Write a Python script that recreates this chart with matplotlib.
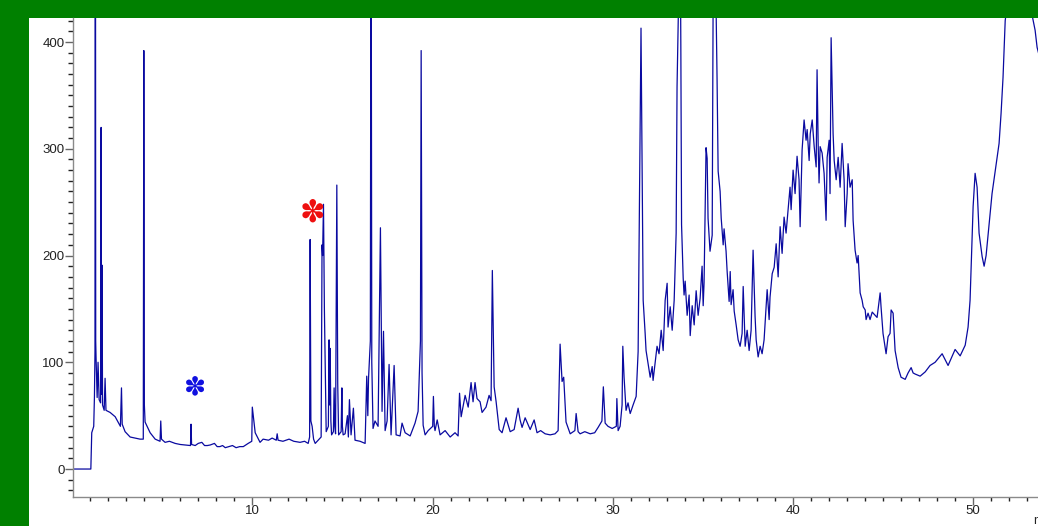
import matplotlib.pyplot as plt
from matplotlib.patches import Rectangle
from matplotlib.ticker import MultipleLocator
import numpy as np

# chromatogram trace, (time in min, signal)
early = [(0, 0), (1.04, 0), (1.09, 34), (1.2, 40), (1.24, 68), (1.27, 110), (1.29, 800),
         (1.31, 120), (1.33, 104), (1.39, 67), (1.44, 100), (1.5, 65), (1.58, 62),
         (1.61, 320), (1.63, 70), (1.66, 191), (1.69, 60), (1.78, 55), (1.83, 85),
         (1.88, 55), (2.11, 53), (2.39, 49), (2.68, 40), (2.74, 76), (2.78, 42),
         (2.94, 35), (3.22, 30), (3.5, 29), (3.77, 28), (3.95, 28), (3.98, 392), (4.01, 60),
         (4.05, 44), (4.33, 34), (4.61, 28), (4.88, 26), (4.92, 45), (4.96, 28),
         (5.16, 25), (5.4, 26), (5.72, 24), (6.0, 23), (6.27, 22.5), (6.57, 22), (6.6, 42),
         (6.63, 23), (6.83, 22), (7.0, 24), (7.2, 25), (7.35, 22), (7.5, 22), (7.66, 22.5),
         (7.9, 24), (8.05, 21), (8.2, 21), (8.35, 22), (8.5, 20), (8.7, 21), (8.9, 22),
         (9.1, 20), (9.3, 21), (9.5, 21), (9.77, 24), (9.97, 26), (10.0, 58),
         (10.16, 34), (10.43, 25)]

middle = [(10.6, 28), (10.9, 27), (11.1, 29), (11.33, 27), (11.38, 33), (11.43, 27),
          (11.7, 26), (12.04, 28), (12.3, 26), (12.65, 25), (12.9, 26),
          (13.1, 24), (13.18, 30), (13.21, 215), (13.25, 45), (13.32, 40), (13.4, 28),
          (13.49, 24), (13.82, 30), (13.87, 210), (13.9, 200), (13.95, 248), (14.0, 150),
          (14.1, 35), (14.22, 40), (14.26, 121), (14.29, 60), (14.32, 113), (14.36, 45),
          (14.4, 32), (14.5, 35), (14.54, 76), (14.58, 40), (14.62, 33), (14.69, 266),
          (14.74, 80), (14.79, 32), (14.93, 35), (14.97, 76), (15.0, 40), (15.04, 32),
          (15.15, 33), (15.28, 50), (15.33, 30), (15.39, 65), (15.48, 32), (15.61, 57),
          (15.7, 27), (15.98, 26), (16.26, 24), (16.35, 87), (16.41, 50), (16.45, 85),
          (16.55, 120), (16.59, 600), (16.63, 100), (16.7, 38), (16.81, 45), (16.98, 40),
          (17.11, 226), (17.2, 54), (17.28, 129), (17.37, 36), (17.48, 45), (17.59, 98),
          (17.7, 32), (17.87, 97), (17.98, 32), (18.2, 31), (18.31, 43), (18.48, 34),
          (18.76, 31), (19.03, 43), (19.2, 54), (19.33, 120), (19.37, 392), (19.42, 90),
          (19.48, 41), (19.59, 32), (19.76, 36), (20.01, 40), (20.05, 68), (20.1, 40),
          (20.14, 36), (20.26, 46), (20.42, 32)]

hump = [(20.7, 36), (20.98, 30), (21.25, 34), (21.42, 31), (21.5, 71), (21.59, 49),
        (21.81, 69), (21.98, 58), (22.14, 81), (22.25, 63), (22.36, 81), (22.47, 66),
        (22.64, 63), (22.75, 53), (22.97, 58), (23.14, 69), (23.25, 64), (23.32, 186),
        (23.42, 77), (23.53, 63), (23.7, 37), (23.86, 34), (24.08, 48), (24.31, 35),
        (24.53, 37), (24.75, 57), (24.86, 46), (24.97, 39), (25.14, 48), (25.42, 37),
        (25.64, 46), (25.8, 34), (26.0, 36), (26.25, 33), (26.53, 32), (26.8, 33), (26.97, 36),
        (27.08, 117), (27.19, 82), (27.28, 86), (27.41, 44), (27.64, 33), (27.9, 36),
        (27.97, 52), (28.08, 35), (28.19, 33), (28.45, 35), (28.75, 33), (29.0, 34),
        (29.19, 39), (29.4, 45), (29.48, 77), (29.58, 43), (29.74, 40), (29.97, 38),
        (30.2, 40), (30.23, 66), (30.3, 36), (30.41, 40), (30.52, 60), (30.56, 115),
        (30.63, 86), (30.74, 55), (30.85, 62), (30.97, 52), (31.13, 60), (31.3, 68),
        (31.41, 110), (31.57, 413)]

late = [(31.69, 158), (31.8, 127), (31.85, 111), (31.96, 99), (32.08, 86), (32.19, 96),
        (32.24, 83), (32.35, 99), (32.46, 115), (32.57, 108), (32.69, 130), (32.8, 111),
        (32.91, 158), (33.02, 174), (33.07, 133), (33.19, 152), (33.3, 130), (33.41, 158),
        (33.52, 221), (33.57, 358), (33.74, 520), (33.78, 397), (33.82, 229), (33.91, 179),
        (33.96, 163), (34.02, 176), (34.13, 144), (34.24, 163), (34.3, 125), (34.41, 153),
        (34.52, 135), (34.63, 167), (34.74, 144), (34.85, 160), (34.96, 190), (35.02, 153),
        (35.07, 175), (35.18, 301), (35.24, 291), (35.29, 235), (35.4, 204), (35.52, 219),
        (35.57, 430), (35.68, 500), (35.79, 366), (35.85, 279), (35.96, 260), (36.02, 235),
        (36.13, 210), (36.18, 225), (36.29, 204), (36.35, 185), (36.46, 157), (36.52, 185),
        (36.57, 154), (36.68, 168), (36.74, 148), (36.85, 135), (36.96, 121), (37.07, 115),
        (37.18, 127), (37.24, 171), (37.35, 115), (37.46, 130), (37.57, 111), (37.68, 130),
        (37.79, 205), (37.9, 143), (37.96, 121), (38.07, 105), (38.18, 115), (38.29, 108),
        (38.4, 121), (38.57, 168), (38.68, 140), (38.73, 161), (38.85, 183), (38.96, 189),
        (39.07, 211), (39.18, 180), (39.29, 227), (39.4, 202), (39.51, 236), (39.62, 221),
        (39.73, 243), (39.84, 264), (39.9, 243), (40.01, 280), (40.12, 258), (40.23, 293),
        (40.34, 271), (40.4, 227), (40.51, 299), (40.62, 327), (40.73, 308), (40.79, 318),
        (40.9, 289), (40.96, 314), (41.07, 327), (41.18, 302), (41.29, 283), (41.34, 374),
        (41.4, 305), (41.45, 268), (41.51, 302), (41.62, 296), (41.73, 277), (41.84, 233),
        (41.9, 292), (42.01, 308), (42.06, 258), (42.12, 404), (42.23, 314), (42.29, 289),
        (42.4, 271), (42.51, 292), (42.62, 264), (42.73, 305), (42.84, 271), (42.9, 227),
        (43.01, 258), (43.06, 286), (43.17, 264), (43.29, 271), (43.34, 233), (43.45, 205),
        (43.56, 193), (43.62, 200), (43.73, 165), (43.84, 158), (43.9, 152), (44.01, 149),
        (44.06, 140), (44.17, 146), (44.28, 140), (44.4, 147), (44.56, 144), (44.67, 142),
        (44.84, 165), (44.89, 152), (45.0, 127), (45.17, 108), (45.28, 124), (45.39, 127),
        (45.45, 149), (45.56, 146), (45.67, 111), (45.84, 95), (46.0, 86), (46.23, 84),
        (46.39, 90), (46.56, 95), (46.67, 90), (46.78, 89), (47.06, 87), (47.34, 91),
        (47.61, 97), (47.89, 100), (48.28, 108), (48.61, 97), (49.0, 112), (49.28, 106),
        (49.56, 116), (49.72, 133), (49.83, 158), (49.89, 189), (50.0, 246), (50.11, 277),
        (50.22, 264), (50.33, 221), (50.5, 199), (50.61, 190), (50.72, 200), (50.89, 230),
        (51.05, 258), (51.28, 286), (51.44, 305), (51.55, 333), (51.66, 367), (51.78, 420),
        (52.5, 520), (53.31, 422), (53.44, 411), (53.55, 395), (53.7, 385)]

# marked compounds
blue_mark = (6.83, 77)
red_mark = (13.36, 240)

trace = np.array(early + middle + hump + late)
t = trace[:, 0]
signal = trace[:, 1]

W, H = 1038, 526
fig = plt.figure(figsize=(W / 100, H / 100), dpi=100)
fig.patch.set_facecolor('#008000')
fig.add_artist(Rectangle((29 / W, 0), 1, (H - 18) / H, transform=fig.transFigure,
                         facecolor='white', edgecolor='none', zorder=-5))

ax = fig.add_axes([73 / W, (H - 497) / H, (W - 73) / W, (497 - 18) / H])
ax.set_facecolor('white')
ax.plot(t, signal, color='#0a0aa0', lw=0.9)

ax.set_xlim(0.05, 53.6)
ax.set_ylim(-26.2, 422.5)

ax.xaxis.set_major_locator(MultipleLocator(10))
ax.xaxis.set_minor_locator(MultipleLocator(1))
ax.yaxis.set_major_locator(MultipleLocator(100))
ax.yaxis.set_minor_locator(MultipleLocator(10))

for s in ['top', 'right']:
    ax.spines[s].set_visible(False)
for s in ['left', 'bottom']:
    ax.spines[s].set_color('#8a8a8a')
    ax.spines[s].set_linewidth(1.0)

ax.tick_params(axis='x', which='major', length=6, width=1, color='#666666', pad=0,
               labelcolor='#222222', labelsize=9.5)
ax.tick_params(axis='x', which='minor', length=3, width=1, color='#222222')
ax.tick_params(axis='y', which='major', length=6, width=1, color='#666666', pad=0,
               labelcolor='#222222', labelsize=9.5)
ax.tick_params(axis='y', which='minor', length=3.5, width=1, color='#222222')
for lab in ax.get_xticklabels() + ax.get_yticklabels():
    lab.set_family('Liberation Sans')

ax.text(blue_mark[0], blue_mark[1], '\u273d', color='#1010e0', fontsize=19,
        ha='center', va='center', family='DejaVu Sans')
ax.text(red_mark[0], red_mark[1], '\u273d', color='#ee1010', fontsize=22,
        ha='center', va='center', family='DejaVu Sans')

fig.text(1033 / W, 1.5 / H, 'min', ha='left', va='baseline', color='#222222',
         family='Liberation Sans', fontsize=9)

fig.savefig('out.png', dpi=100, facecolor=fig.get_facecolor())
